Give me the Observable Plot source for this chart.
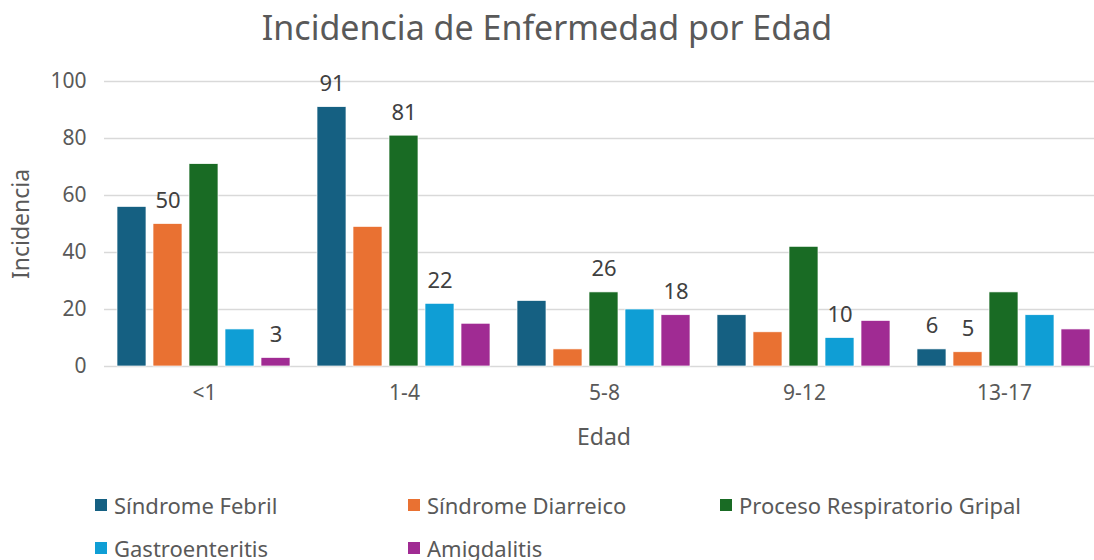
<!DOCTYPE html>
<html><head><meta charset="utf-8">
<script src="https://cdn.jsdelivr.net/npm/d3@7"></script>
<script src="https://cdn.jsdelivr.net/npm/@observablehq/plot@0.6"></script>
<style>
html,body{margin:0;padding:0;overflow:hidden;background:#fff;width:1094px;height:560px;}
body{font-family:"Noto Sans",Roboto,sans-serif;color:#595959;position:relative;}
#title{width:1094px;height:60px;text-align:center;font-size:34px;line-height:54px;color:#595959;}
#chart{height:400px;width:1104px;overflow:visible;}
#chart svg{max-width:none !important;}
#legend{position:relative;height:100px;font-size:22px;color:#595959;}
.item{position:absolute;display:flex;align-items:center;white-space:nowrap;}
.sw{width:12px;height:12px;margin-right:7px;}
.axtitle{position:absolute;font-size:23px;color:#595959;white-space:nowrap;transform:translate(-50%,-50%);}
</style></head>
<body>
<div id="title">Incidencia de Enfermedad por Edad</div>
<div id="chart"></div>
<div id="legend"></div>
<div class="axtitle" id="ytitle" style="left:20px;top:224px;transform:translate(-50%,-50%) rotate(-90deg);"></div>
<div class="axtitle" id="xtitle" style="left:604px;top:436px;"></div>
<script>
const ages = ["<1", "1-4", "5-8", "9-12", "13-17"];
const series = ["Síndrome Febril", "Síndrome Diarreico", "Proceso Respiratorio Gripal", "Gastroenteritis", "Amigdalitis"];
const colors = ["#156082", "#E97132", "#196B24", "#0F9ED5", "#A02B93"];
const febril = [56, 91, 23, 18, 6];
const diarreico = [50, 49, 6, 12, 5];
const respiratorio = [71, 81, 26, 42, 26];
const gastro = [13, 22, 20, 10, 18];
const amigdalitis = [3, 15, 18, 16, 13];
const yTicks = [0, 20, 40, 60, 80, 100];
const yTitle = "Incidencia";
const xTitle = "Edad";
const shownLabels = [
  ["<1", "Síndrome Diarreico"], ["<1", "Amigdalitis"],
  ["1-4", "Síndrome Febril"], ["1-4", "Proceso Respiratorio Gripal"], ["1-4", "Gastroenteritis"],
  ["5-8", "Proceso Respiratorio Gripal"], ["5-8", "Amigdalitis"],
  ["9-12", "Gastroenteritis"],
  ["13-17", "Síndrome Febril"], ["13-17", "Síndrome Diarreico"]
];

const seriesValues = [febril, diarreico, respiratorio, gastro, amigdalitis];
const data = [];
ages.forEach((a, i) => series.forEach((s, j) => data.push({age: a, series: s, value: seriesValues[j][i]})));
const isShown = d => shownLabels.some(([a, s]) => a === d.age && s === d.series);

const font = '"Noto Sans", Roboto, sans-serif';
const chart = Plot.plot({
  width: 1104,
  height: 400,
  marginLeft: 104,
  marginRight: 0,
  marginTop: 21,
  marginBottom: 94,
  style: {fontFamily: font, fontSize: "21px", color: "#595959", background: "white"},
  fx: {domain: ages, padding: 0},
  x: {domain: series, paddingInner: 0.19, paddingOuter: 0.3, axis: null},
  y: {domain: [0, 100], ticks: yTicks},
  color: {domain: series, range: colors},
  marks: [
    Plot.gridY(yTicks, {stroke: "#d9d9d9", strokeOpacity: 1, strokeWidth: 1.5}),
    Plot.barY(data, {fx: "age", x: "series", y: "value", fill: "series", stroke: "white", strokeWidth: 0.7}),
    Plot.text(data.filter(isShown), {fx: "age", x: "series", y: "value", text: d => String(d.value), dy: -23, fill: "#404040", fontSize: 22}),
    Plot.axisY(yTicks, {tickSize: 0, tickPadding: 18, label: null, fontSize: 21}),
    Plot.axisFx({anchor: "bottom", tickSize: 0, tickPadding: 19, label: null, fontSize: 21})
  ]
});
chart.style.maxWidth = "none";
document.getElementById("chart").appendChild(chart);
document.getElementById("ytitle").textContent = yTitle;
document.getElementById("xtitle").textContent = xTitle;

const legend = document.getElementById("legend");
const positions = [[95, 45], [408, 45], [720, 45], [95, 88], [408, 88]];
series.forEach((s, i) => {
  const it = document.createElement("div");
  it.className = "item";
  it.style.left = positions[i][0] + "px";
  it.style.top = (positions[i][1] - 15) + "px";
  it.innerHTML = `<div class="sw" style="background:${colors[i]}"></div><span>${s}</span>`;
  legend.appendChild(it);
});
</script>
</body></html>
